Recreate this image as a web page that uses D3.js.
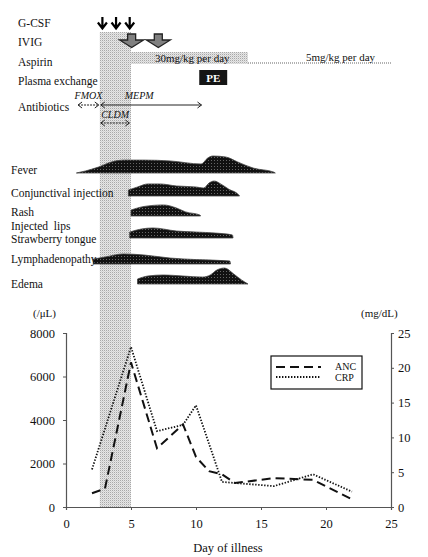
<!DOCTYPE html>
<html>
<head>
<meta charset="utf-8">
<script src="https://cdn.jsdelivr.net/npm/d3@7"></script>
<style>
body { margin: 0; background: #fff; }
text { font-family: "Liberation Serif", "DejaVu Serif", serif; fill: #111; }
</style>
</head>
<body>
<div id="chart"></div>
<script>
// lab values
const ancDays = [2, 3, 5, 7, 9, 10, 11, 12, 13, 16, 19, 22];
const ancValues = [630, 850, 6650, 2700, 3800, 2300, 1650, 1500, 1100, 1330, 1250, 350];
const crpDays = [2, 5, 7, 9, 10, 12, 14, 16, 19, 22];
const crpValues = [5.4, 23, 10.9, 11.8, 14.6, 3.6, 3.3, 3.0, 4.7, 2.2];

const leftTicks = [0, 2000, 4000, 6000, 8000];
const rightTicks = [0, 5, 10, 15, 20, 25];
const dayTicks = [0, 5, 10, 15, 20, 25];

// treatments (days)
const shadedDays = [2.6, 5];
const gcsfDays = [2.8, 3.85, 4.9];
const ivigDays = [5.05, 7.1];
const aspirinHigh = [5, 14];
const aspirinLow = [14, 25];
const peDays = [10.25, 12.4];
const antibiotics = [
    { name: 'FMOX', from: 0.85, to: 2.6, row: 0, dashed: true },
    { name: 'MEPM', from: 2.6, to: 10.5, row: 0, dashed: false },
    { name: 'CLDM', from: 2.6, to: 4.95, row: 1, dashed: true }
];
const treatmentLabels = ['G-CSF', 'IVIG', 'Aspirin', 'Plasma exchange', 'Antibiotics'];

// symptom intensity profiles: [day, intensity]
const symptomNames = ['Fever', 'Conjunctival injection', 'Rash', 'Injected\u00a0 lips|Strawberry tongue', 'Lymphadenopathy', 'Edema'];
const fever = [[0.8, 0], [1.5, 1.2], [2.5, 3.5], [3.5, 6.5], [4.5, 7.6], [6, 7.6], [8, 7.1], [10.4, 5.3], [10.9, 8.8], [11.3, 10], [12.3, 9.4], [13.2, 6.5], [14.4, 2.9], [16, 0.5], [16.1, 0]];
const conjunctival = [[4.8, 3.5], [5.5, 5.3], [6.3, 7.1], [7.2, 7.1], [8.5, 5.9], [10, 5.3], [10.6, 4.7], [11.0, 7.6], [11.4, 8.8], [11.9, 7.1], [12.5, 4.1], [13.3, 0.5], [13.35, 0]];
const rash = [[5, 3.5], [6, 5.6], [7.5, 6.5], [8.5, 4.7], [9.2, 2.4], [10.3, 0.6], [10.35, 0]];
const lipsTongue = [[4.9, 3.5], [5.8, 5.3], [6.7, 5.9], [8.5, 4.1], [10, 3.5], [11.5, 2.9], [12.8, 1.8], [12.85, 0]];
const lymph = [[2.1, 2.9], [3, 4.1], [4.4, 5.9], [6, 5.3], [8, 3.5], [10, 2.6], [12.6, 1.8], [12.65, 0]];
const edema = [[5.5, 2.9], [6.3, 4.7], [7.5, 5.3], [9, 4.7], [10.5, 4.1], [11.1, 5.3], [11.6, 8.2], [12.2, 9.4], [12.9, 5.9], [13.5, 2.4], [14, 0]];
const symptomProfiles = [fever, conjunctival, rash, lipsTongue, lymph, edema];

const W = 428, H = 557;
const svg = d3.select('#chart').append('svg')
    .attr('width', W)
    .attr('height', H);

const defs = svg.append('defs');
const stip = defs.append('pattern')
    .attr('id', 'stip')
    .attr('width', 2).attr('height', 2)
    .attr('patternUnits', 'userSpaceOnUse');
stip.append('rect').attr('width', 2).attr('height', 2).attr('fill', '#e6e6e6');
stip.append('rect').attr('width', 1).attr('height', 1).attr('fill', '#a8a8a8');
stip.append('rect').attr('x', 1).attr('y', 1).attr('width', 1).attr('height', 1).attr('fill', '#d2d2d2');

const blk = defs.append('pattern')
    .attr('id', 'blk')
    .attr('width', 3).attr('height', 3)
    .attr('patternUnits', 'userSpaceOnUse');
blk.append('rect').attr('width', 3).attr('height', 3).attr('fill', '#111');
blk.append('rect').attr('x', 1).attr('y', 1).attr('width', 1).attr('height', 1).attr('fill', '#666');

const x = d3.scaleLinear().domain([0, 25]).range([66, 391]);
const yL = d3.scaleLinear().domain([0, 8000]).range([507, 333]);
const yR = d3.scaleLinear().domain([0, 25]).range([507, 333]);
const h = d3.scaleLinear().domain([0, 10]).range([0, 17]);

// shaded period
svg.append('rect')
    .attr('x', x(shadedDays[0]))
    .attr('y', 32)
    .attr('width', x(shadedDays[1]) - x(shadedDays[0]))
    .attr('height', yL(0) - 32)
    .attr('fill', 'url(#stip)');

// treatment labels
const labelY = [23, 42, 62, 81, 107];
svg.selectAll('.tlabel')
    .data(treatmentLabels)
    .enter().append('text')
    .attr('class', 'tlabel')
    .attr('x', 18)
    .attr('y', (d, i) => labelY[i] + 4)
    .style('font-size', '11.5px')
    .text(d => d);

// G-CSF arrows
gcsfDays.forEach(d => {
    const cx = x(d);
    svg.append('path')
        .attr('d', `M${cx},17 L${cx},28 M${cx - 4.5},22.5 L${cx},28.5 L${cx + 4.5},22.5`)
        .attr('fill', 'none')
        .attr('stroke', '#000')
        .attr('stroke-width', 2.2);
});

// IVIG arrows
ivigDays.forEach(d => {
    const cx = x(d);
    svg.append('path')
        .attr('d', `M${cx - 4},34 L${cx + 4},34 L${cx + 4},40 L${cx + 12},40 L${cx},47.5 L${cx - 12},40 L${cx - 4},40 Z`)
        .attr('fill', '#808080')
        .attr('stroke', '#222')
        .attr('stroke-width', 1.3);
});

// Aspirin
svg.append('rect')
    .attr('x', x(aspirinHigh[0]))
    .attr('y', 52)
    .attr('width', x(aspirinHigh[1]) - x(aspirinHigh[0]))
    .attr('height', 12)
    .attr('fill', 'url(#stip)');
svg.append('line')
    .attr('x1', x(aspirinLow[0])).attr('x2', x(aspirinLow[1]))
    .attr('y1', 63).attr('y2', 63)
    .attr('stroke', '#999')
    .attr('stroke-width', 1.4)
    .attr('stroke-dasharray', '1,1');
svg.append('text')
    .attr('x', 155).attr('y', 62)
    .style('font-size', '11px')
    .text('30mg/kg per day');
svg.append('text')
    .attr('x', 306).attr('y', 61)
    .style('font-size', '11px')
    .text('5mg/kg per day');

// Plasma exchange
svg.append('rect')
    .attr('x', x(peDays[0])).attr('y', 70)
    .attr('width', x(peDays[1]) - x(peDays[0]))
    .attr('height', 15)
    .attr('fill', '#151515');
svg.append('text')
    .attr('x', (x(peDays[0]) + x(peDays[1])) / 2)
    .attr('y', 82)
    .attr('text-anchor', 'middle')
    .style('font-size', '11px')
    .style('font-weight', 'bold')
    .style('fill', '#fff')
    .text('PE');

// Antibiotics
const abY = [105, 123];
const abLabelY = [99, 118];
antibiotics.forEach(a => {
    const x1 = x(a.from), x2 = x(a.to), yy = abY[a.row];
    svg.append('line')
        .attr('x1', x1 + 1).attr('x2', x2 - 1)
        .attr('y1', yy).attr('y2', yy)
        .attr('stroke', '#222')
        .attr('stroke-width', 1)
        .attr('stroke-dasharray', a.dashed ? '2,1' : null);
    svg.append('path')
        .attr('d', `M${x1 + 5},${yy - 3} L${x1 + 1},${yy} L${x1 + 5},${yy + 3} M${x2 - 5},${yy - 3} L${x2 - 1},${yy} L${x2 - 5},${yy + 3}`)
        .attr('fill', 'none')
        .attr('stroke', '#222')
        .attr('stroke-width', 1);
    svg.append('text')
        .attr('x', (x1 + x2) / 2 + (a.name === 'MEPM' ? -12 : 0))
        .attr('y', abLabelY[a.row])
        .attr('text-anchor', 'middle')
        .style('font-size', '10px')
        .style('font-style', 'italic')
        .text(a.name);
});

// symptoms
const rowBase = [173, 196, 216, 238, 264, 284];
const rowLabelY = [[174], [197], [216], [230], [263], [288]];
const area = d3.area()
    .curve(d3.curveMonotoneX)
    .x(d => x(d[0]));
symptomProfiles.forEach((prof, i) => {
    area.y0(rowBase[i]).y1(d => rowBase[i] - h(d[1]));
    svg.append('path')
        .attr('d', area(prof))
        .attr('fill', 'url(#blk)')
        .attr('stroke', '#444')
        .attr('stroke-width', 0.8);
    const t = svg.append('text')
        .attr('x', 11)
        .attr('y', rowLabelY[i][0])
        .style('font-size', '11.5px');
    symptomNames[i].split('|').forEach((line, j) => {
        t.append('tspan')
            .attr('x', 11)
            .attr('dy', j === 0 ? 0 : 12.5)
            .text(line);
    });
});

// axes
const axisColor = '#555';
const gB = svg.append('g').attr('transform', `translate(0,${yL(0)})`)
    .call(d3.axisBottom(x).tickValues(dayTicks).tickSize(3).tickPadding(9));
const gL = svg.append('g').attr('transform', `translate(${x(0)},0)`)
    .call(d3.axisLeft(yL).tickValues(leftTicks).tickFormat(d3.format('d')).tickSize(3).tickPadding(8));
const gR = svg.append('g').attr('transform', `translate(${x(25)},0)`)
    .call(d3.axisRight(yR).tickValues(rightTicks).tickSize(3).tickPadding(4));
[gB, gL, gR].forEach(g => {
    g.select('.domain').attr('stroke', axisColor).attr('stroke-width', 1.2);
    g.selectAll('.tick line').attr('stroke', axisColor);
    g.selectAll('.tick text')
        .style('font-family', '"Liberation Serif", serif')
        .style('font-size', '12.5px')
        .attr('fill', '#111');
});

svg.append('text').attr('x', 33).attr('y', 317).style('font-size', '11px').text('(/\u03bcL)');
svg.append('text').attr('x', 361).attr('y', 317).style('font-size', '11px').text('(mg/dL)');
svg.append('text')
    .attr('x', 228).attr('y', 552)
    .attr('text-anchor', 'middle')
    .style('font-size', '12.5px')
    .text('Day of illness');

// lines
const ancLine = d3.line().x((d, i) => x(ancDays[i])).y(d => yL(d));
const crpLine = d3.line().x((d, i) => x(crpDays[i])).y(d => yR(d));
svg.append('path')
    .attr('d', ancLine(ancValues))
    .attr('fill', 'none')
    .attr('stroke', '#111')
    .attr('stroke-width', 2)
    .attr('stroke-dasharray', '9,5');
svg.append('path')
    .attr('d', crpLine(crpValues))
    .attr('fill', 'none')
    .attr('stroke', '#111')
    .attr('stroke-width', 1.8)
    .attr('stroke-dasharray', '1.4,1.6');

// legend
svg.append('rect')
    .attr('x', 271).attr('y', 356)
    .attr('width', 91).attr('height', 33)
    .attr('fill', '#fff')
    .attr('stroke', '#111')
    .attr('stroke-width', 1.2);
svg.append('line')
    .attr('x1', 276).attr('x2', 321).attr('y1', 367).attr('y2', 367)
    .attr('stroke', '#111').attr('stroke-width', 2).attr('stroke-dasharray', '9,5');
svg.append('line')
    .attr('x1', 276).attr('x2', 321).attr('y1', 377).attr('y2', 377)
    .attr('stroke', '#111').attr('stroke-width', 1.8).attr('stroke-dasharray', '1.4,1.6');
svg.append('text').attr('x', 335).attr('y', 370).style('font-size', '10px').text('ANC');
svg.append('text').attr('x', 335).attr('y', 381).style('font-size', '10px').text('CRP');
</script>
</body>
</html>
